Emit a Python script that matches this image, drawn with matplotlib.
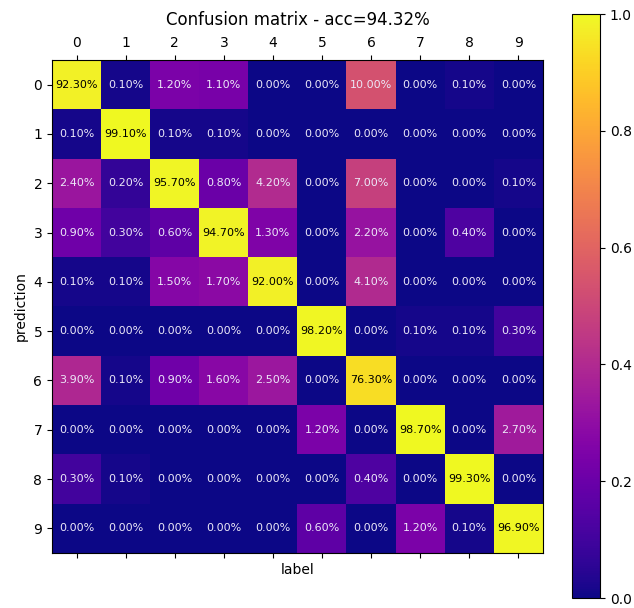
import numpy as np
import matplotlib
matplotlib.use("Agg")
import matplotlib.pyplot as plt

# ============================================================
# DATA (percent, rows = prediction, columns = label)
# ============================================================

class_names = ["0", "1", "2", "3", "4", "5", "6", "7", "8", "9"]

row_0 = [92.3, 0.1, 1.2, 1.1, 0.0, 0.0, 10.0, 0.0, 0.1, 0.0]
row_1 = [0.1, 99.1, 0.1, 0.1, 0.0, 0.0, 0.0, 0.0, 0.0, 0.0]
row_2 = [2.4, 0.2, 95.7, 0.8, 4.2, 0.0, 7.0, 0.0, 0.0, 0.1]
row_3 = [0.9, 0.3, 0.6, 94.7, 1.3, 0.0, 2.2, 0.0, 0.4, 0.0]
row_4 = [0.1, 0.1, 1.5, 1.7, 92.0, 0.0, 4.1, 0.0, 0.0, 0.0]
row_5 = [0.0, 0.0, 0.0, 0.0, 0.0, 98.2, 0.0, 0.1, 0.1, 0.3]
row_6 = [3.9, 0.1, 0.9, 1.6, 2.5, 0.0, 76.3, 0.0, 0.0, 0.0]
row_7 = [0.0, 0.0, 0.0, 0.0, 0.0, 1.2, 0.0, 98.7, 0.0, 2.7]
row_8 = [0.3, 0.1, 0.0, 0.0, 0.0, 0.0, 0.4, 0.0, 99.3, 0.0]
row_9 = [0.0, 0.0, 0.0, 0.0, 0.0, 0.6, 0.0, 1.2, 0.1, 96.9]

accuracy = 94.32

cm = np.array([row_0, row_1, row_2, row_3, row_4,
               row_5, row_6, row_7, row_8, row_9])

# ============================================================
# COLOUR VALUES (compressed scale so small errors show up)
# ============================================================

frac = cm / 100.0
shade = np.clip((frac ** 0.17 - 0.3) / 0.7, 0.0, 1.0)

# ============================================================
# PLOT
# ============================================================

fig = plt.figure(figsize=(6.34, 6.08), dpi=100)

ax = fig.add_axes([52 / 634, 55 / 608, 491 / 634, 493 / 608])
cax = fig.add_axes([572 / 634, 10 / 608, 28 / 634, 584 / 608])

im = ax.imshow(
    shade,
    cmap="plasma",
    vmin=0.0,
    vmax=1.0,
    interpolation="nearest",
    aspect="auto"
)

for i in range(cm.shape[0]):
    for j in range(cm.shape[1]):
        color = "black" if cm[i, j] > 50 else "#ece8f8"
        ax.text(
            j, i,
            f"{cm[i, j]:.2f}%",
            ha="center",
            va="center",
            fontsize=8,
            color=color
        )

ticks = np.arange(len(class_names))

ax.set_xticks(ticks)
ax.set_xticklabels(class_names)
ax.set_yticks(ticks)
ax.set_yticklabels(class_names)

ax.xaxis.tick_top()
ax.tick_params(axis="x", top=True, bottom=True, labeltop=True, labelbottom=False)

ax.set_xlabel("label")
ax.set_ylabel("prediction")

ax.set_title(f"Confusion matrix - acc={accuracy:.2f}%", pad=8)

fig.colorbar(im, cax=cax)

fig.savefig("out.png", dpi=100)
